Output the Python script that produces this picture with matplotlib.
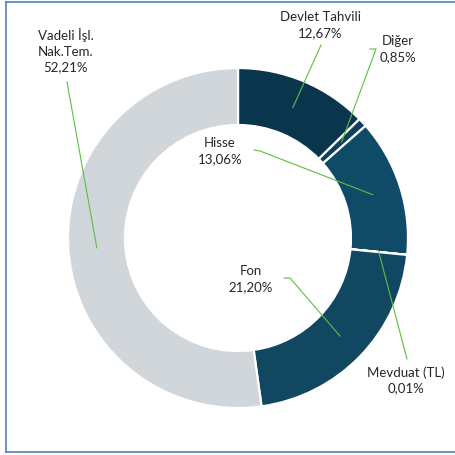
import matplotlib
matplotlib.use("Agg")
import matplotlib.pyplot as plt
import numpy as np

categories = ["Devlet Tahvili", "Diğer", "Hisse", "Mevduat (TL)", "Fon", "Vadeli İşl.\nNak.Tem."]
values = [12.67, 0.85, 13.06, 0.01, 21.20, 52.21]
colors = ["#0A364D", "#0D405A", "#0F4B66", "#104963", "#124762", "#D1D6DB"]

# label layout (pixel coords of text centre) and leader line start points
label_pos = [(320, 25), (398, 49), (220, 151), (406, 380), (251, 279), (66, 51)]
leader_start = [[(321, 45)], [(370, 49), (376, 49)], [(254, 150), (260, 151)],
                [(407, 359)], [(284, 278), (290, 278)], [(67, 82)]]

plt.rcParams['font.family'] = ["Lato", "DejaVu Sans"]

W = 455
fig = plt.figure(figsize=(4.55, 4.55), dpi=100)
ax = fig.add_axes([0, 0, 1, 1])

cx, cy, R = 238, 238, 170
width = 57
wedges, _ = ax.pie(values, colors=colors, startangle=-90, counterclock=True,
                   radius=R, center=(cx, cy), frame=True,
                   wedgeprops=dict(width=width, edgecolor="white", linewidth=1.6))
ax.set_xlim(0, W)
ax.set_ylim(W, 0)
ax.set_aspect('equal')
ax.axis('off')

green = "#5DBE3F"
for i, w in enumerate(wedges):
    mid = np.deg2rad((w.theta1 + w.theta2) / 2)
    rr = R - width / 2
    anchor = (cx + rr * np.cos(mid), cy + rr * np.sin(mid))
    pts = leader_start[i] + [anchor]
    xs, ys = zip(*pts)
    ax.plot(xs, ys, color=green, lw=0.8, zorder=5)
    pct = f"{values[i]:.2f}".replace(".", ",") + "%"
    ax.text(label_pos[i][0], label_pos[i][1], f"{categories[i]}\n{pct}",
            ha="center", va="center", fontsize=9.5, color="#262626",
            linespacing=1.35, zorder=6)

# frame border
bc = "#4F81BD"
fig.add_artist(plt.Line2D([6 / W, 1.01], [1 - 2 / W, 1 - 2 / W], transform=fig.transFigure, color=bc, lw=1.2))
fig.add_artist(plt.Line2D([6 / W, 6 / W], [1 - 2 / W, 1 - 452 / W], transform=fig.transFigure, color=bc, lw=1.2))
fig.add_artist(plt.Line2D([6 / W, 1.01], [1 - 452 / W, 1 - 452 / W], transform=fig.transFigure, color=bc, lw=1.2))

fig.savefig("out.png", dpi=100)
